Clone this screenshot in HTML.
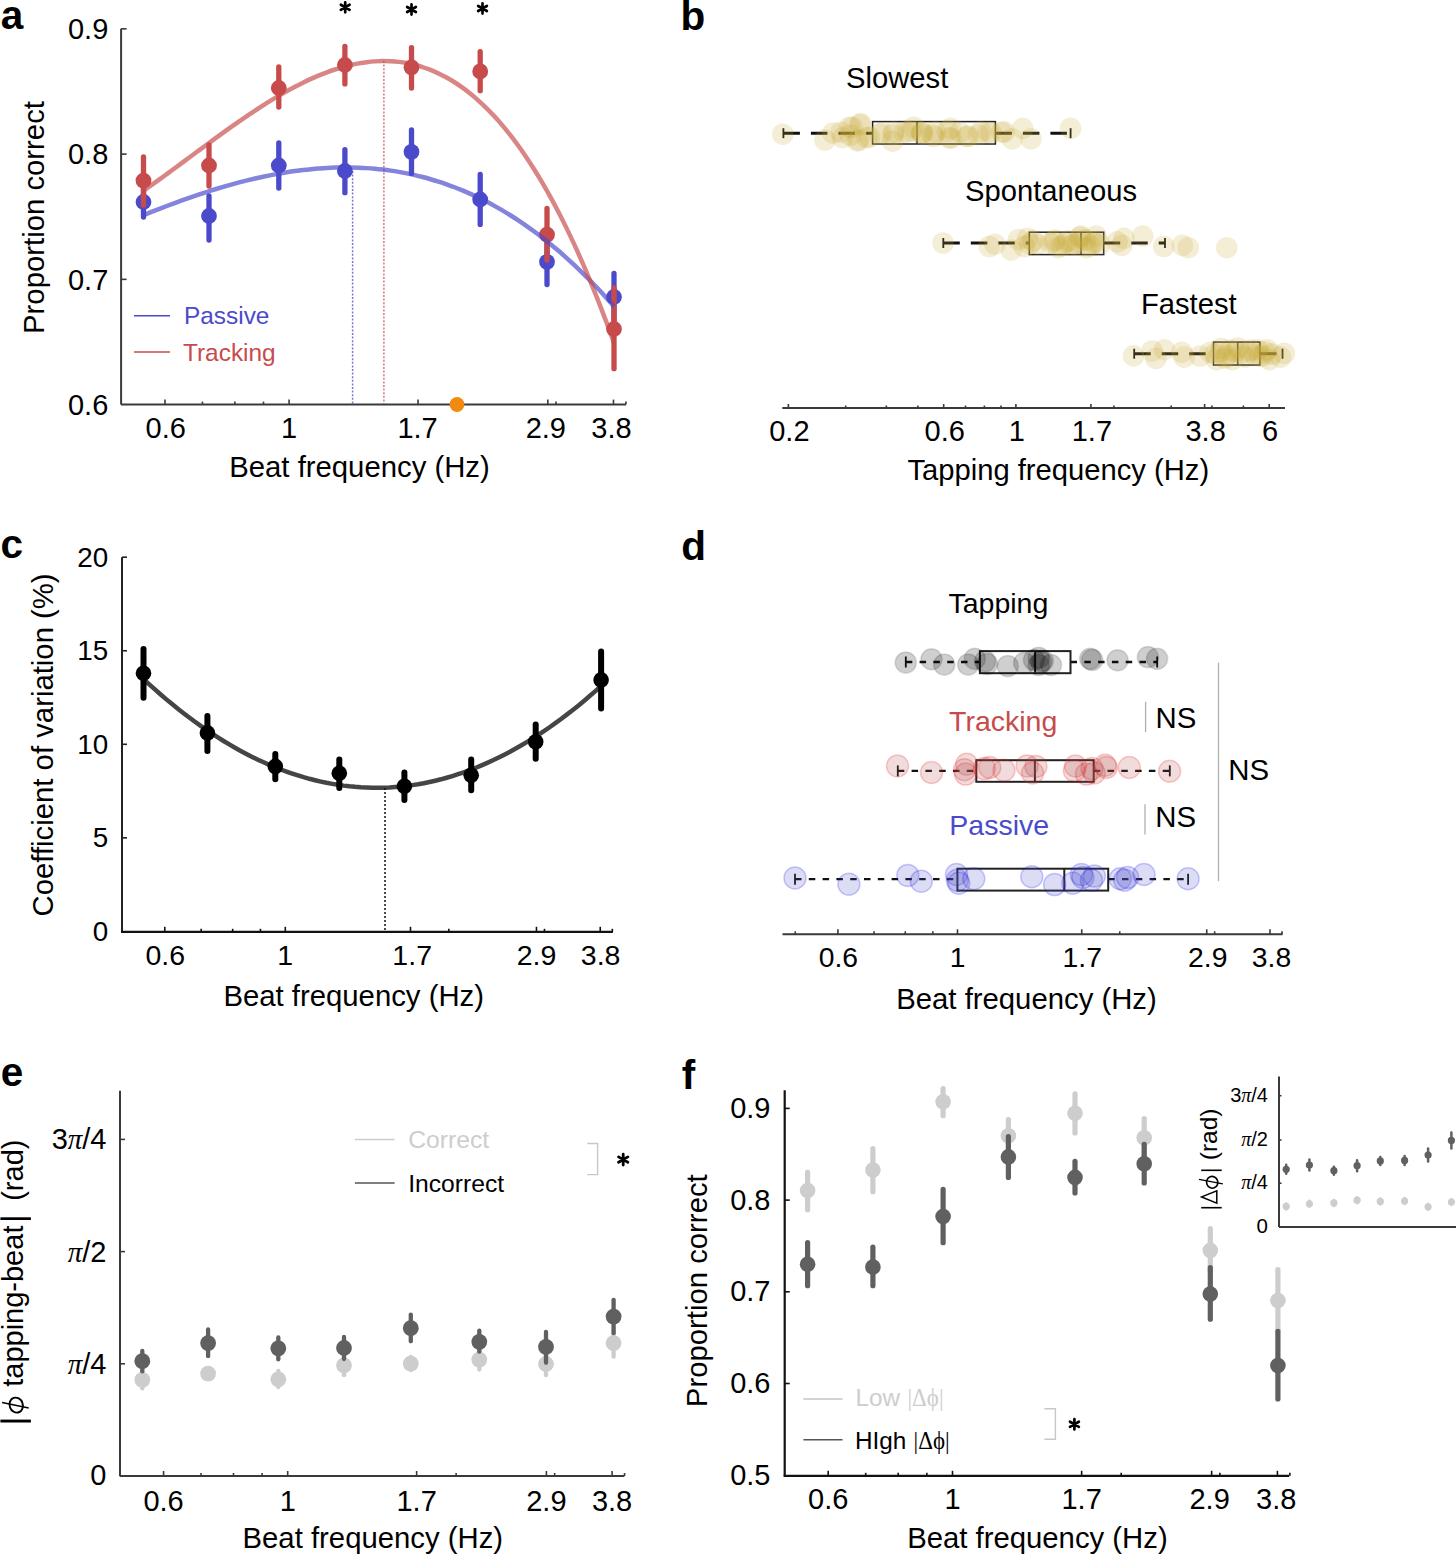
<!DOCTYPE html>
<html><head><meta charset="utf-8"><style>
html,body{margin:0;padding:0;background:#fff;width:1456px;height:1556px;overflow:hidden}
svg{display:block;font-family:"Liberation Sans",sans-serif}
</style></head><body>
<svg width="1456" height="1556" viewBox="0 0 1456 1556" font-family='"Liberation Sans", sans-serif'><text x="0.80" y="28.70" font-size="40.5" text-anchor="start" fill="#000" font-weight="bold" >a</text>
<text x="680.50" y="30.40" font-size="40.5" text-anchor="start" fill="#000" font-weight="bold" >b</text>
<text x="0.60" y="558.40" font-size="40.5" text-anchor="start" fill="#000" font-weight="bold" >c</text>
<text x="681.20" y="559.70" font-size="40.5" text-anchor="start" fill="#000" font-weight="bold" >d</text>
<text x="0.80" y="1085.60" font-size="40.5" text-anchor="start" fill="#000" font-weight="bold" >e</text>
<text x="681.80" y="1088.50" font-size="40.5" text-anchor="start" fill="#000" font-weight="bold" >f</text>
<line x1="121.10" y1="28.80" x2="121.10" y2="404.50" stroke="#3a3a3a" stroke-width="2" />
<line x1="121.10" y1="28.85" x2="126.60" y2="28.85" stroke="#3a3a3a" stroke-width="1.6" />
<line x1="121.10" y1="154.10" x2="126.60" y2="154.10" stroke="#3a3a3a" stroke-width="1.6" />
<line x1="121.10" y1="279.35" x2="126.60" y2="279.35" stroke="#3a3a3a" stroke-width="1.6" />
<line x1="121.00" y1="404.60" x2="626.00" y2="404.60" stroke="#3a3a3a" stroke-width="2" />
<line x1="164.98" y1="404.60" x2="164.98" y2="399.60" stroke="#3a3a3a" stroke-width="1.6" />
<line x1="289.10" y1="404.60" x2="289.10" y2="399.60" stroke="#3a3a3a" stroke-width="1.6" />
<line x1="418.04" y1="404.60" x2="418.04" y2="399.60" stroke="#3a3a3a" stroke-width="1.6" />
<line x1="547.81" y1="404.60" x2="547.81" y2="399.60" stroke="#3a3a3a" stroke-width="1.6" />
<line x1="613.49" y1="404.60" x2="613.49" y2="399.60" stroke="#3a3a3a" stroke-width="1.6" />
<line x1="202.43" y1="404.60" x2="202.43" y2="401.60" stroke="#3a3a3a" stroke-width="1.6" />
<line x1="234.88" y1="404.60" x2="234.88" y2="401.60" stroke="#3a3a3a" stroke-width="1.6" />
<line x1="263.50" y1="404.60" x2="263.50" y2="401.60" stroke="#3a3a3a" stroke-width="1.6" />
<line x1="457.53" y1="404.60" x2="457.53" y2="401.60" stroke="#3a3a3a" stroke-width="1.6" />
<line x1="556.05" y1="404.60" x2="556.05" y2="401.60" stroke="#3a3a3a" stroke-width="1.6" />
<line x1="625.95" y1="404.60" x2="625.95" y2="401.60" stroke="#3a3a3a" stroke-width="1.6" />
<text x="108.30" y="39.05" font-size="29" text-anchor="end" fill="#000" font-weight="normal" >0.9</text>
<text x="108.30" y="164.30" font-size="29" text-anchor="end" fill="#000" font-weight="normal" >0.8</text>
<text x="108.30" y="289.55" font-size="29" text-anchor="end" fill="#000" font-weight="normal" >0.7</text>
<text x="108.30" y="414.80" font-size="29" text-anchor="end" fill="#000" font-weight="normal" >0.6</text>
<text x="165.78" y="438.20" font-size="29" text-anchor="middle" fill="#000" font-weight="normal" >0.6</text>
<text x="289.10" y="438.20" font-size="29" text-anchor="middle" fill="#000" font-weight="normal" >1</text>
<text x="417.54" y="438.20" font-size="29" text-anchor="middle" fill="#000" font-weight="normal" >1.7</text>
<text x="545.81" y="438.20" font-size="29" text-anchor="middle" fill="#000" font-weight="normal" >2.9</text>
<text x="611.49" y="438.20" font-size="29" text-anchor="middle" fill="#000" font-weight="normal" >3.8</text>
<text x="359.50" y="476.50" font-size="29.3" text-anchor="middle" fill="#000" font-weight="normal" >Beat frequency (Hz)</text>
<text x="43.50" y="217.50" font-size="29.3" text-anchor="middle" fill="#000" font-weight="normal" transform="rotate(-90 43.5 217.5)">Proportion correct</text>
<line x1="352.60" y1="171.00" x2="352.60" y2="404.00" stroke="#4a4acb" stroke-width="1.5" stroke-dasharray="2 1.6" stroke-opacity="0.75"/>
<line x1="383.90" y1="61.00" x2="383.90" y2="404.00" stroke="#c84b4b" stroke-width="1.5" stroke-dasharray="2 1.6" stroke-opacity="0.75"/>
<line x1="143.50" y1="186.00" x2="143.50" y2="217.00" stroke="#4a4acb" stroke-width="5.3" stroke-linecap="round"/>
<circle cx="143.50" cy="202.00" r="7.9" fill="#4a4acb" />
<line x1="209.00" y1="196.00" x2="209.00" y2="240.00" stroke="#4a4acb" stroke-width="5.3" stroke-linecap="round"/>
<circle cx="209.00" cy="216.00" r="7.9" fill="#4a4acb" />
<line x1="278.80" y1="143.00" x2="278.80" y2="188.00" stroke="#4a4acb" stroke-width="5.3" stroke-linecap="round"/>
<circle cx="278.80" cy="165.50" r="7.9" fill="#4a4acb" />
<line x1="344.90" y1="149.60" x2="344.90" y2="192.70" stroke="#4a4acb" stroke-width="5.3" stroke-linecap="round"/>
<circle cx="344.90" cy="171.00" r="7.9" fill="#4a4acb" />
<line x1="411.50" y1="130.00" x2="411.50" y2="173.40" stroke="#4a4acb" stroke-width="5.3" stroke-linecap="round"/>
<circle cx="411.50" cy="151.90" r="7.9" fill="#4a4acb" />
<line x1="480.20" y1="174.50" x2="480.20" y2="224.40" stroke="#4a4acb" stroke-width="5.3" stroke-linecap="round"/>
<circle cx="480.20" cy="199.50" r="7.9" fill="#4a4acb" />
<line x1="547.00" y1="239.00" x2="547.00" y2="284.60" stroke="#4a4acb" stroke-width="5.3" stroke-linecap="round"/>
<circle cx="547.00" cy="261.90" r="7.9" fill="#4a4acb" />
<line x1="614.00" y1="273.50" x2="614.00" y2="320.00" stroke="#4a4acb" stroke-width="5.3" stroke-linecap="round"/>
<circle cx="614.00" cy="297.00" r="7.9" fill="#4a4acb" />
<line x1="143.50" y1="157.00" x2="143.50" y2="205.00" stroke="#c84b4b" stroke-width="5.3" stroke-linecap="round"/>
<circle cx="143.50" cy="180.60" r="7.9" fill="#c84b4b" />
<line x1="209.00" y1="145.00" x2="209.00" y2="186.00" stroke="#c84b4b" stroke-width="5.3" stroke-linecap="round"/>
<circle cx="209.00" cy="165.50" r="7.9" fill="#c84b4b" />
<line x1="278.80" y1="67.00" x2="278.80" y2="107.00" stroke="#c84b4b" stroke-width="5.3" stroke-linecap="round"/>
<circle cx="278.80" cy="88.00" r="7.9" fill="#c84b4b" />
<line x1="344.90" y1="46.50" x2="344.90" y2="83.90" stroke="#c84b4b" stroke-width="5.3" stroke-linecap="round"/>
<circle cx="344.90" cy="65.00" r="7.9" fill="#c84b4b" />
<line x1="411.50" y1="47.60" x2="411.50" y2="88.00" stroke="#c84b4b" stroke-width="5.3" stroke-linecap="round"/>
<circle cx="411.50" cy="67.30" r="7.9" fill="#c84b4b" />
<line x1="480.20" y1="51.70" x2="480.20" y2="90.70" stroke="#c84b4b" stroke-width="5.3" stroke-linecap="round"/>
<circle cx="480.20" cy="71.40" r="7.9" fill="#c84b4b" />
<line x1="547.00" y1="208.50" x2="547.00" y2="260.00" stroke="#c84b4b" stroke-width="5.3" stroke-linecap="round"/>
<circle cx="547.00" cy="234.60" r="7.9" fill="#c84b4b" />
<line x1="614.00" y1="288.00" x2="614.00" y2="368.70" stroke="#c84b4b" stroke-width="5.3" stroke-linecap="round"/>
<circle cx="614.00" cy="329.00" r="7.9" fill="#c84b4b" />
<path d="M143.50,215.14 C144.83,214.61 148.82,213.00 151.47,211.94 C154.13,210.89 156.79,209.84 159.45,208.81 C162.11,207.78 164.77,206.76 167.42,205.75 C170.08,204.75 172.74,203.76 175.40,202.78 C178.06,201.80 180.71,200.84 183.37,199.89 C186.03,198.94 188.69,198.00 191.35,197.09 C194.01,196.17 196.66,195.26 199.32,194.38 C201.98,193.49 204.64,192.62 207.30,191.77 C209.95,190.92 212.61,190.08 215.27,189.27 C217.93,188.45 220.59,187.65 223.25,186.87 C225.90,186.09 228.56,185.33 231.22,184.59 C233.88,183.85 236.54,183.13 239.19,182.43 C241.85,181.73 244.51,181.05 247.17,180.40 C249.83,179.74 252.49,179.10 255.14,178.49 C257.80,177.88 260.46,177.29 263.12,176.72 C265.78,176.15 268.44,175.61 271.09,175.08 C273.75,174.56 276.41,174.07 279.07,173.59 C281.73,173.12 284.38,172.68 287.04,172.25 C289.70,171.83 292.36,171.44 295.02,171.07 C297.68,170.70 300.33,170.35 302.99,170.04 C305.65,169.72 308.31,169.43 310.97,169.17 C313.62,168.91 316.28,168.68 318.94,168.48 C321.60,168.28 324.26,168.10 326.92,167.96 C329.57,167.81 332.23,167.70 334.89,167.61 C337.55,167.53 340.21,167.48 342.86,167.45 C345.52,167.43 348.18,167.44 350.84,167.48 C353.50,167.52 356.16,167.60 358.81,167.70 C361.47,167.81 364.13,167.95 366.79,168.13 C369.45,168.30 372.10,168.51 374.76,168.75 C377.42,168.99 380.08,169.27 382.74,169.58 C385.40,169.89 388.05,170.24 390.71,170.63 C393.37,171.01 396.03,171.43 398.69,171.89 C401.34,172.35 404.00,172.84 406.66,173.38 C409.32,173.91 411.98,174.48 414.64,175.09 C417.29,175.70 419.95,176.35 422.61,177.04 C425.27,177.73 427.93,178.45 430.58,179.22 C433.24,179.99 435.90,180.80 438.56,181.65 C441.22,182.50 443.88,183.39 446.53,184.33 C449.19,185.26 451.85,186.24 454.51,187.26 C457.17,188.27 459.82,189.34 462.48,190.44 C465.14,191.55 467.80,192.70 470.46,193.89 C473.12,195.08 475.77,196.32 478.43,197.61 C481.09,198.89 483.75,200.22 486.41,201.60 C489.06,202.97 491.72,204.39 494.38,205.86 C497.04,207.33 499.70,208.85 502.36,210.41 C505.01,211.97 507.67,213.59 510.33,215.25 C512.99,216.91 515.65,218.62 518.31,220.37 C520.96,222.13 523.62,223.94 526.28,225.80 C528.94,227.66 531.60,229.57 534.25,231.53 C536.91,233.49 539.57,235.50 542.23,237.56 C544.89,239.63 547.55,241.74 550.20,243.91 C552.86,246.08 555.52,248.30 558.18,250.57 C560.84,252.85 563.49,255.18 566.15,257.56 C568.81,259.94 571.47,262.38 574.13,264.87 C576.79,267.36 579.44,269.91 582.10,272.52 C584.76,275.12 587.42,277.78 590.08,280.50 C592.73,283.21 595.39,285.99 598.05,288.82 C600.71,291.65 603.37,294.54 606.03,297.49 C608.68,300.44 612.67,305.01 614.00,306.51 " fill="none" stroke="#4a4acb" stroke-opacity="0.68" stroke-width="4.5"/>
<path d="M143.50,190.73 C144.83,189.80 148.82,187.01 151.47,185.12 C154.13,183.23 156.79,181.32 159.45,179.40 C162.11,177.48 164.77,175.55 167.42,173.61 C170.08,171.67 172.74,169.72 175.40,167.76 C178.06,165.80 180.71,163.84 183.37,161.87 C186.03,159.91 188.69,157.94 191.35,155.97 C194.01,154.00 196.66,152.03 199.32,150.07 C201.98,148.10 204.64,146.14 207.30,144.19 C209.95,142.24 212.61,140.29 215.27,138.35 C217.93,136.42 220.59,134.49 223.25,132.58 C225.90,130.67 228.56,128.77 231.22,126.89 C233.88,125.01 236.54,123.14 239.19,121.30 C241.85,119.45 244.51,117.63 247.17,115.83 C249.83,114.03 252.49,112.25 255.14,110.51 C257.80,108.76 260.46,107.04 263.12,105.35 C265.78,103.66 268.44,101.99 271.09,100.37 C273.75,98.74 276.41,97.15 279.07,95.59 C281.73,94.04 284.38,92.51 287.04,91.04 C289.70,89.56 292.36,88.12 295.02,86.73 C297.68,85.33 300.33,83.98 302.99,82.68 C305.65,81.38 308.31,80.12 310.97,78.91 C313.62,77.71 316.28,76.55 318.94,75.45 C321.60,74.35 324.26,73.30 326.92,72.31 C329.57,71.32 332.23,70.38 334.89,69.51 C337.55,68.64 340.21,67.83 342.86,67.08 C345.52,66.33 348.18,65.64 350.84,65.03 C353.50,64.41 356.16,63.86 358.81,63.38 C361.47,62.90 364.13,62.48 366.79,62.15 C369.45,61.81 372.10,61.55 374.76,61.37 C377.42,61.18 380.08,61.07 382.74,61.04 C385.40,61.02 388.05,61.07 390.71,61.21 C393.37,61.34 396.03,61.56 398.69,61.87 C401.34,62.18 404.00,62.57 406.66,63.06 C409.32,63.54 411.98,64.12 414.64,64.79 C417.29,65.46 419.95,66.22 422.61,67.08 C425.27,67.94 427.93,68.89 430.58,69.95 C433.24,71.01 435.90,72.17 438.56,73.43 C441.22,74.69 443.88,76.06 446.53,77.53 C449.19,79.00 451.85,80.58 454.51,82.27 C457.17,83.96 459.82,85.76 462.48,87.68 C465.14,89.59 467.80,91.62 470.46,93.77 C473.12,95.91 475.77,98.17 478.43,100.56 C481.09,102.94 483.75,105.44 486.41,108.07 C489.06,110.70 491.72,113.45 494.38,116.33 C497.04,119.21 499.70,122.21 502.36,125.35 C505.01,128.49 507.67,131.75 510.33,135.15 C512.99,138.55 515.65,142.08 518.31,145.76 C520.96,149.43 523.62,153.23 526.28,157.18 C528.94,161.13 531.60,165.22 534.25,169.46 C536.91,173.69 539.57,178.06 542.23,182.59 C544.89,187.11 547.55,191.78 550.20,196.61 C552.86,201.43 555.52,206.40 558.18,211.52 C560.84,216.65 563.49,221.93 566.15,227.37 C568.81,232.80 571.47,238.40 574.13,244.15 C576.79,249.91 579.44,255.82 582.10,261.90 C584.76,267.98 587.42,274.22 590.08,280.63 C592.73,287.04 595.39,293.61 598.05,300.36 C600.71,307.11 603.37,314.03 606.03,321.12 C608.68,328.21 612.67,339.28 614.00,342.92 " fill="none" stroke="#c84b4b" stroke-opacity="0.68" stroke-width="4.5"/>
<path d="M345.20,2.25 L345.20,12.35 M340.83,4.78 L349.57,9.82 M340.83,9.82 L349.57,4.78 " stroke="#000" stroke-width="2.7" stroke-linecap="round" fill="none"/>
<path d="M411.50,4.45 L411.50,14.55 M407.13,6.97 L415.87,12.03 M407.13,12.03 L415.87,6.97 " stroke="#000" stroke-width="2.7" stroke-linecap="round" fill="none"/>
<path d="M482.50,3.45 L482.50,13.55 M478.13,5.97 L486.87,11.03 M478.13,11.03 L486.87,5.97 " stroke="#000" stroke-width="2.7" stroke-linecap="round" fill="none"/>
<line x1="134.00" y1="315.70" x2="170.00" y2="315.70" stroke="#4a4acb" stroke-width="1.5" />
<text x="184.00" y="323.70" font-size="24.4" text-anchor="start" fill="#4a4acb" font-weight="normal" >Passive</text>
<line x1="134.00" y1="352.00" x2="170.00" y2="352.00" stroke="#c84b4b" stroke-width="1.5" />
<text x="183.00" y="361.00" font-size="24.4" text-anchor="start" fill="#c84b4b" font-weight="normal" >Tracking</text>
<circle cx="457.00" cy="404.50" r="7.4" fill="#f08a10" />
<line x1="782.30" y1="408.00" x2="1285.00" y2="408.00" stroke="#3a3a3a" stroke-width="2" />
<line x1="788.39" y1="408.00" x2="788.39" y2="404.00" stroke="#3a3a3a" stroke-width="1.6" />
<line x1="943.69" y1="408.00" x2="943.69" y2="404.00" stroke="#3a3a3a" stroke-width="1.6" />
<line x1="1015.90" y1="408.00" x2="1015.90" y2="404.00" stroke="#3a3a3a" stroke-width="1.6" />
<line x1="1090.91" y1="408.00" x2="1090.91" y2="404.00" stroke="#3a3a3a" stroke-width="1.6" />
<line x1="1204.62" y1="408.00" x2="1204.62" y2="404.00" stroke="#3a3a3a" stroke-width="1.6" />
<line x1="1269.19" y1="408.00" x2="1269.19" y2="404.00" stroke="#3a3a3a" stroke-width="1.6" />
<line x1="845.70" y1="408.00" x2="845.70" y2="405.50" stroke="#3a3a3a" stroke-width="1.6" />
<line x1="886.37" y1="408.00" x2="886.37" y2="405.50" stroke="#3a3a3a" stroke-width="1.6" />
<line x1="917.91" y1="408.00" x2="917.91" y2="405.50" stroke="#3a3a3a" stroke-width="1.6" />
<line x1="965.48" y1="408.00" x2="965.48" y2="405.50" stroke="#3a3a3a" stroke-width="1.6" />
<line x1="984.36" y1="408.00" x2="984.36" y2="405.50" stroke="#3a3a3a" stroke-width="1.6" />
<line x1="1001.01" y1="408.00" x2="1001.01" y2="405.50" stroke="#3a3a3a" stroke-width="1.6" />
<line x1="1113.89" y1="408.00" x2="1113.89" y2="405.50" stroke="#3a3a3a" stroke-width="1.6" />
<line x1="1171.20" y1="408.00" x2="1171.20" y2="405.50" stroke="#3a3a3a" stroke-width="1.6" />
<line x1="1211.87" y1="408.00" x2="1211.87" y2="405.50" stroke="#3a3a3a" stroke-width="1.6" />
<line x1="1243.41" y1="408.00" x2="1243.41" y2="405.50" stroke="#3a3a3a" stroke-width="1.6" />
<text x="789.39" y="441.00" font-size="29" text-anchor="middle" fill="#000" font-weight="normal" >0.2</text>
<text x="944.69" y="441.00" font-size="29" text-anchor="middle" fill="#000" font-weight="normal" >0.6</text>
<text x="1016.90" y="441.00" font-size="29" text-anchor="middle" fill="#000" font-weight="normal" >1</text>
<text x="1091.91" y="441.00" font-size="29" text-anchor="middle" fill="#000" font-weight="normal" >1.7</text>
<text x="1205.62" y="441.00" font-size="29" text-anchor="middle" fill="#000" font-weight="normal" >3.8</text>
<text x="1270.19" y="441.00" font-size="29" text-anchor="middle" fill="#000" font-weight="normal" >6</text>
<text x="1058.30" y="480.00" font-size="29.2" text-anchor="middle" fill="#000" font-weight="normal" >Tapping frequency (Hz)</text>
<text x="897.20" y="87.60" font-size="29.2" text-anchor="middle" fill="#000" font-weight="normal" >Slowest</text>
<text x="1051.10" y="201.20" font-size="29.2" text-anchor="middle" fill="#000" font-weight="normal" >Spontaneous</text>
<text x="1188.80" y="314.40" font-size="29.2" text-anchor="middle" fill="#000" font-weight="normal" >Fastest</text>
<line x1="783.40" y1="133.20" x2="872.60" y2="133.20" stroke="#111" stroke-width="3" stroke-dasharray="16.5 11"/>
<line x1="995.40" y1="133.20" x2="1070.60" y2="133.20" stroke="#111" stroke-width="3" stroke-dasharray="16.5 11"/>
<line x1="783.40" y1="128.20" x2="783.40" y2="138.20" stroke="#111" stroke-width="1.8" />
<line x1="1070.60" y1="128.20" x2="1070.60" y2="138.20" stroke="#111" stroke-width="1.8" />
<rect x="872.60" y="121.60" width="122.80" height="22.40" fill="none" stroke="#222" stroke-width="1.5"/>
<line x1="917.00" y1="121.60" x2="917.00" y2="144.00" stroke="#222" stroke-width="1.5" />
<circle cx="782.80" cy="134.20" r="10.8" fill="rgb(200,170,55)" fill-opacity="0.2"/>
<circle cx="824.90" cy="140.00" r="10.8" fill="rgb(200,170,55)" fill-opacity="0.2"/>
<circle cx="833.00" cy="133.00" r="10.8" fill="rgb(200,170,55)" fill-opacity="0.2"/>
<circle cx="842.40" cy="137.70" r="10.8" fill="rgb(200,170,55)" fill-opacity="0.2"/>
<circle cx="849.40" cy="127.20" r="10.8" fill="rgb(200,170,55)" fill-opacity="0.2"/>
<circle cx="850.60" cy="135.40" r="10.8" fill="rgb(200,170,55)" fill-opacity="0.2"/>
<circle cx="859.90" cy="124.80" r="10.8" fill="rgb(200,170,55)" fill-opacity="0.2"/>
<circle cx="858.70" cy="140.00" r="10.8" fill="rgb(200,170,55)" fill-opacity="0.2"/>
<circle cx="866.90" cy="137.70" r="10.8" fill="rgb(200,170,55)" fill-opacity="0.2"/>
<circle cx="882.10" cy="133.00" r="10.8" fill="rgb(200,170,55)" fill-opacity="0.2"/>
<circle cx="892.60" cy="141.20" r="10.8" fill="rgb(200,170,55)" fill-opacity="0.2"/>
<circle cx="893.80" cy="131.90" r="10.8" fill="rgb(200,170,55)" fill-opacity="0.2"/>
<circle cx="907.80" cy="131.90" r="10.8" fill="rgb(200,170,55)" fill-opacity="0.2"/>
<circle cx="913.60" cy="127.20" r="10.8" fill="rgb(200,170,55)" fill-opacity="0.2"/>
<circle cx="921.80" cy="134.20" r="10.8" fill="rgb(200,170,55)" fill-opacity="0.2"/>
<circle cx="933.50" cy="136.50" r="10.8" fill="rgb(200,170,55)" fill-opacity="0.2"/>
<circle cx="922.30" cy="133.00" r="10.8" fill="rgb(200,170,55)" fill-opacity="0.2"/>
<circle cx="935.20" cy="131.90" r="10.8" fill="rgb(200,170,55)" fill-opacity="0.2"/>
<circle cx="950.40" cy="128.40" r="10.8" fill="rgb(200,170,55)" fill-opacity="0.2"/>
<circle cx="949.20" cy="137.70" r="10.8" fill="rgb(200,170,55)" fill-opacity="0.2"/>
<circle cx="966.70" cy="136.50" r="10.8" fill="rgb(200,170,55)" fill-opacity="0.2"/>
<circle cx="980.70" cy="131.90" r="10.8" fill="rgb(200,170,55)" fill-opacity="0.2"/>
<circle cx="991.20" cy="133.00" r="10.8" fill="rgb(200,170,55)" fill-opacity="0.2"/>
<circle cx="1004.10" cy="131.90" r="10.8" fill="rgb(200,170,55)" fill-opacity="0.2"/>
<circle cx="1012.20" cy="138.90" r="10.8" fill="rgb(200,170,55)" fill-opacity="0.2"/>
<circle cx="1022.70" cy="128.40" r="10.8" fill="rgb(200,170,55)" fill-opacity="0.2"/>
<circle cx="1030.90" cy="138.90" r="10.8" fill="rgb(200,170,55)" fill-opacity="0.2"/>
<circle cx="1070.60" cy="128.40" r="10.8" fill="rgb(200,170,55)" fill-opacity="0.2"/>
<circle cx="879.40" cy="134.10" r="10.8" fill="rgb(200,170,55)" fill-opacity="0.2"/>
<circle cx="893.00" cy="134.70" r="10.8" fill="rgb(200,170,55)" fill-opacity="0.2"/>
<circle cx="904.20" cy="132.20" r="10.8" fill="rgb(200,170,55)" fill-opacity="0.2"/>
<circle cx="911.60" cy="131.00" r="10.8" fill="rgb(200,170,55)" fill-opacity="0.2"/>
<circle cx="921.50" cy="132.20" r="10.8" fill="rgb(200,170,55)" fill-opacity="0.2"/>
<circle cx="932.60" cy="134.70" r="10.8" fill="rgb(200,170,55)" fill-opacity="0.2"/>
<circle cx="947.40" cy="131.00" r="10.8" fill="rgb(200,170,55)" fill-opacity="0.2"/>
<circle cx="951.10" cy="138.40" r="10.8" fill="rgb(200,170,55)" fill-opacity="0.2"/>
<circle cx="959.80" cy="132.20" r="10.8" fill="rgb(200,170,55)" fill-opacity="0.2"/>
<circle cx="968.40" cy="136.00" r="10.8" fill="rgb(200,170,55)" fill-opacity="0.2"/>
<circle cx="978.30" cy="134.70" r="10.8" fill="rgb(200,170,55)" fill-opacity="0.2"/>
<circle cx="988.20" cy="132.20" r="10.8" fill="rgb(200,170,55)" fill-opacity="0.2"/>
<circle cx="1001.80" cy="132.20" r="10.8" fill="rgb(200,170,55)" fill-opacity="0.2"/>
<circle cx="841.00" cy="132.20" r="10.8" fill="rgb(200,170,55)" fill-opacity="0.2"/>
<circle cx="852.20" cy="127.30" r="10.8" fill="rgb(200,170,55)" fill-opacity="0.2"/>
<circle cx="860.90" cy="123.60" r="10.8" fill="rgb(200,170,55)" fill-opacity="0.2"/>
<circle cx="857.20" cy="140.90" r="10.8" fill="rgb(200,170,55)" fill-opacity="0.2"/>
<circle cx="869.60" cy="137.20" r="10.8" fill="rgb(200,170,55)" fill-opacity="0.2"/>
<line x1="943.30" y1="243.00" x2="1029.30" y2="243.00" stroke="#111" stroke-width="3" stroke-dasharray="16.5 11"/>
<line x1="1103.70" y1="243.00" x2="1165.00" y2="243.00" stroke="#111" stroke-width="3" stroke-dasharray="16.5 11"/>
<line x1="943.30" y1="238.00" x2="943.30" y2="248.00" stroke="#111" stroke-width="1.8" />
<line x1="1165.00" y1="238.00" x2="1165.00" y2="248.00" stroke="#111" stroke-width="1.8" />
<rect x="1029.30" y="232.20" width="74.40" height="22.40" fill="none" stroke="#222" stroke-width="1.5"/>
<line x1="1081.00" y1="232.20" x2="1081.00" y2="254.60" stroke="#222" stroke-width="1.5" />
<circle cx="943.10" cy="243.00" r="10.8" fill="rgb(200,170,55)" fill-opacity="0.2"/>
<circle cx="989.20" cy="246.50" r="10.8" fill="rgb(200,170,55)" fill-opacity="0.2"/>
<circle cx="995.00" cy="244.20" r="10.8" fill="rgb(200,170,55)" fill-opacity="0.2"/>
<circle cx="1011.40" cy="250.00" r="10.8" fill="rgb(200,170,55)" fill-opacity="0.2"/>
<circle cx="1018.40" cy="239.50" r="10.8" fill="rgb(200,170,55)" fill-opacity="0.2"/>
<circle cx="1024.20" cy="246.50" r="10.8" fill="rgb(200,170,55)" fill-opacity="0.2"/>
<circle cx="1027.70" cy="238.40" r="10.8" fill="rgb(200,170,55)" fill-opacity="0.2"/>
<circle cx="1037.10" cy="244.20" r="10.8" fill="rgb(200,170,55)" fill-opacity="0.2"/>
<circle cx="1053.40" cy="241.90" r="10.8" fill="rgb(200,170,55)" fill-opacity="0.2"/>
<circle cx="1058.10" cy="247.70" r="10.8" fill="rgb(200,170,55)" fill-opacity="0.2"/>
<circle cx="1065.10" cy="243.00" r="10.8" fill="rgb(200,170,55)" fill-opacity="0.2"/>
<circle cx="1074.40" cy="244.20" r="10.8" fill="rgb(200,170,55)" fill-opacity="0.2"/>
<circle cx="1080.30" cy="237.20" r="10.8" fill="rgb(200,170,55)" fill-opacity="0.2"/>
<circle cx="1086.10" cy="247.70" r="10.8" fill="rgb(200,170,55)" fill-opacity="0.2"/>
<circle cx="1093.10" cy="243.00" r="10.8" fill="rgb(200,170,55)" fill-opacity="0.2"/>
<circle cx="1080.80" cy="236.00" r="10.8" fill="rgb(200,170,55)" fill-opacity="0.2"/>
<circle cx="1096.00" cy="236.00" r="10.8" fill="rgb(200,170,55)" fill-opacity="0.2"/>
<circle cx="1117.00" cy="241.90" r="10.8" fill="rgb(200,170,55)" fill-opacity="0.2"/>
<circle cx="1121.70" cy="245.40" r="10.8" fill="rgb(200,170,55)" fill-opacity="0.2"/>
<circle cx="1124.00" cy="238.40" r="10.8" fill="rgb(200,170,55)" fill-opacity="0.2"/>
<circle cx="1142.70" cy="236.00" r="10.8" fill="rgb(200,170,55)" fill-opacity="0.2"/>
<circle cx="1163.70" cy="246.50" r="10.8" fill="rgb(200,170,55)" fill-opacity="0.2"/>
<circle cx="1182.40" cy="245.40" r="10.8" fill="rgb(200,170,55)" fill-opacity="0.2"/>
<circle cx="1188.30" cy="247.70" r="10.8" fill="rgb(200,170,55)" fill-opacity="0.2"/>
<circle cx="1226.80" cy="247.70" r="10.8" fill="rgb(200,170,55)" fill-opacity="0.2"/>
<circle cx="1050.00" cy="243.00" r="10.8" fill="rgb(200,170,55)" fill-opacity="0.2"/>
<circle cx="1055.00" cy="240.00" r="10.8" fill="rgb(200,170,55)" fill-opacity="0.2"/>
<circle cx="1062.00" cy="246.00" r="10.8" fill="rgb(200,170,55)" fill-opacity="0.2"/>
<circle cx="1068.00" cy="241.00" r="10.8" fill="rgb(200,170,55)" fill-opacity="0.2"/>
<circle cx="1072.00" cy="245.00" r="10.8" fill="rgb(200,170,55)" fill-opacity="0.2"/>
<circle cx="1078.00" cy="243.00" r="10.8" fill="rgb(200,170,55)" fill-opacity="0.2"/>
<circle cx="1085.00" cy="240.00" r="10.8" fill="rgb(200,170,55)" fill-opacity="0.2"/>
<circle cx="1090.00" cy="246.00" r="10.8" fill="rgb(200,170,55)" fill-opacity="0.2"/>
<circle cx="1095.00" cy="242.00" r="10.8" fill="rgb(200,170,55)" fill-opacity="0.2"/>
<circle cx="1100.00" cy="244.00" r="10.8" fill="rgb(200,170,55)" fill-opacity="0.2"/>
<circle cx="1030.00" cy="244.00" r="10.8" fill="rgb(200,170,55)" fill-opacity="0.2"/>
<circle cx="1033.00" cy="241.00" r="10.8" fill="rgb(200,170,55)" fill-opacity="0.2"/>
<line x1="1134.20" y1="353.70" x2="1213.50" y2="353.70" stroke="#111" stroke-width="3" stroke-dasharray="16.5 11"/>
<line x1="1259.90" y1="353.70" x2="1282.50" y2="353.70" stroke="#111" stroke-width="3" stroke-dasharray="16.5 11"/>
<line x1="1134.20" y1="348.70" x2="1134.20" y2="358.70" stroke="#111" stroke-width="1.8" />
<line x1="1282.50" y1="348.70" x2="1282.50" y2="358.70" stroke="#111" stroke-width="1.8" />
<rect x="1213.50" y="342.10" width="46.40" height="22.90" fill="none" stroke="#222" stroke-width="1.5"/>
<line x1="1237.70" y1="342.10" x2="1237.70" y2="365.00" stroke="#222" stroke-width="1.5" />
<circle cx="1133.50" cy="355.90" r="10.8" fill="rgb(200,170,55)" fill-opacity="0.2"/>
<circle cx="1152.10" cy="351.00" r="10.8" fill="rgb(200,170,55)" fill-opacity="0.2"/>
<circle cx="1155.80" cy="358.40" r="10.8" fill="rgb(200,170,55)" fill-opacity="0.2"/>
<circle cx="1164.50" cy="349.70" r="10.8" fill="rgb(200,170,55)" fill-opacity="0.2"/>
<circle cx="1181.80" cy="352.20" r="10.8" fill="rgb(200,170,55)" fill-opacity="0.2"/>
<circle cx="1184.20" cy="357.10" r="10.8" fill="rgb(200,170,55)" fill-opacity="0.2"/>
<circle cx="1210.20" cy="352.20" r="10.8" fill="rgb(200,170,55)" fill-opacity="0.2"/>
<circle cx="1216.40" cy="359.60" r="10.8" fill="rgb(200,170,55)" fill-opacity="0.2"/>
<circle cx="1221.30" cy="348.50" r="10.8" fill="rgb(200,170,55)" fill-opacity="0.2"/>
<circle cx="1226.30" cy="355.90" r="10.8" fill="rgb(200,170,55)" fill-opacity="0.2"/>
<circle cx="1232.40" cy="359.60" r="10.8" fill="rgb(200,170,55)" fill-opacity="0.2"/>
<circle cx="1241.10" cy="353.40" r="10.8" fill="rgb(200,170,55)" fill-opacity="0.2"/>
<circle cx="1248.50" cy="352.20" r="10.8" fill="rgb(200,170,55)" fill-opacity="0.2"/>
<circle cx="1257.20" cy="349.70" r="10.8" fill="rgb(200,170,55)" fill-opacity="0.2"/>
<circle cx="1263.40" cy="355.90" r="10.8" fill="rgb(200,170,55)" fill-opacity="0.2"/>
<circle cx="1267.10" cy="349.70" r="10.8" fill="rgb(200,170,55)" fill-opacity="0.2"/>
<circle cx="1269.50" cy="359.60" r="10.8" fill="rgb(200,170,55)" fill-opacity="0.2"/>
<circle cx="1284.40" cy="353.40" r="10.8" fill="rgb(200,170,55)" fill-opacity="0.2"/>
<circle cx="1280.70" cy="357.10" r="10.8" fill="rgb(200,170,55)" fill-opacity="0.2"/>
<circle cx="1220.00" cy="352.00" r="10.8" fill="rgb(200,170,55)" fill-opacity="0.2"/>
<circle cx="1230.00" cy="350.00" r="10.8" fill="rgb(200,170,55)" fill-opacity="0.2"/>
<circle cx="1245.00" cy="357.00" r="10.8" fill="rgb(200,170,55)" fill-opacity="0.2"/>
<circle cx="1255.00" cy="355.00" r="10.8" fill="rgb(200,170,55)" fill-opacity="0.2"/>
<circle cx="1238.00" cy="348.00" r="10.8" fill="rgb(200,170,55)" fill-opacity="0.2"/>
<circle cx="1215.00" cy="354.00" r="10.8" fill="rgb(200,170,55)" fill-opacity="0.2"/>
<circle cx="1225.00" cy="358.00" r="10.8" fill="rgb(200,170,55)" fill-opacity="0.2"/>
<circle cx="1235.00" cy="352.00" r="10.8" fill="rgb(200,170,55)" fill-opacity="0.2"/>
<circle cx="1250.00" cy="350.00" r="10.8" fill="rgb(200,170,55)" fill-opacity="0.2"/>
<circle cx="1260.00" cy="356.00" r="10.8" fill="rgb(200,170,55)" fill-opacity="0.2"/>
<circle cx="1265.00" cy="352.00" r="10.8" fill="rgb(200,170,55)" fill-opacity="0.2"/>
<circle cx="1272.00" cy="354.00" r="10.8" fill="rgb(200,170,55)" fill-opacity="0.2"/>
<circle cx="1200.00" cy="356.00" r="10.8" fill="rgb(200,170,55)" fill-opacity="0.2"/>
<line x1="122.00" y1="557.20" x2="122.00" y2="931.80" stroke="#222" stroke-width="2" />
<line x1="122.00" y1="557.20" x2="127.00" y2="557.20" stroke="#222" stroke-width="1.6" />
<line x1="122.00" y1="650.75" x2="127.00" y2="650.75" stroke="#222" stroke-width="1.6" />
<line x1="122.00" y1="744.30" x2="127.00" y2="744.30" stroke="#222" stroke-width="1.6" />
<line x1="122.00" y1="837.85" x2="127.00" y2="837.85" stroke="#222" stroke-width="1.6" />
<line x1="121.00" y1="931.80" x2="612.90" y2="931.80" stroke="#111" stroke-width="2.2" />
<line x1="164.79" y1="931.80" x2="164.79" y2="926.80" stroke="#111" stroke-width="1.6" />
<line x1="285.30" y1="931.80" x2="285.30" y2="926.80" stroke="#111" stroke-width="1.6" />
<line x1="410.48" y1="931.80" x2="410.48" y2="926.80" stroke="#111" stroke-width="1.6" />
<line x1="536.47" y1="931.80" x2="536.47" y2="926.80" stroke="#111" stroke-width="1.6" />
<line x1="600.24" y1="931.80" x2="600.24" y2="926.80" stroke="#111" stroke-width="1.6" />
<line x1="201.16" y1="931.80" x2="201.16" y2="928.80" stroke="#111" stroke-width="1.6" />
<line x1="232.66" y1="931.80" x2="232.66" y2="928.80" stroke="#111" stroke-width="1.6" />
<line x1="260.44" y1="931.80" x2="260.44" y2="928.80" stroke="#111" stroke-width="1.6" />
<line x1="448.82" y1="931.80" x2="448.82" y2="928.80" stroke="#111" stroke-width="1.6" />
<line x1="544.47" y1="931.80" x2="544.47" y2="928.80" stroke="#111" stroke-width="1.6" />
<line x1="612.34" y1="931.80" x2="612.34" y2="928.80" stroke="#111" stroke-width="1.6" />
<text x="108.20" y="566.50" font-size="27.8" text-anchor="end" fill="#000" font-weight="normal" >20</text>
<text x="108.20" y="660.05" font-size="27.8" text-anchor="end" fill="#000" font-weight="normal" >15</text>
<text x="108.20" y="753.60" font-size="27.8" text-anchor="end" fill="#000" font-weight="normal" >10</text>
<text x="108.20" y="847.15" font-size="27.8" text-anchor="end" fill="#000" font-weight="normal" >5</text>
<text x="108.20" y="940.70" font-size="27.8" text-anchor="end" fill="#000" font-weight="normal" >0</text>
<text x="165.29" y="964.90" font-size="28.5" text-anchor="middle" fill="#000" font-weight="normal" >0.6</text>
<text x="285.30" y="964.90" font-size="28.5" text-anchor="middle" fill="#000" font-weight="normal" >1</text>
<text x="412.18" y="964.90" font-size="28.5" text-anchor="middle" fill="#000" font-weight="normal" >1.7</text>
<text x="536.47" y="964.90" font-size="28.5" text-anchor="middle" fill="#000" font-weight="normal" >2.9</text>
<text x="600.64" y="964.90" font-size="28.5" text-anchor="middle" fill="#000" font-weight="normal" >3.8</text>
<text x="353.70" y="1005.50" font-size="29.3" text-anchor="middle" fill="#000" font-weight="normal" >Beat frequency (Hz)</text>
<text x="52.50" y="744.40" font-size="29.3" text-anchor="middle" fill="#000" font-weight="normal" transform="rotate(-90 53 744.4)">Coefficient of variation (%)</text>
<path d="M143.50,679.00 L149.22,684.28 L154.94,689.43 L160.66,694.45 L166.38,699.34 L172.10,704.10 L177.82,708.72 L183.54,713.22 L189.26,717.58 L194.98,721.81 L200.70,725.91 L206.42,729.87 L212.14,733.71 L217.86,737.41 L223.58,740.99 L229.30,744.43 L235.02,747.74 L240.74,750.92 L246.46,753.96 L252.18,756.88 L257.90,759.66 L263.62,762.31 L269.34,764.83 L275.06,767.22 L280.78,769.48 L286.50,771.61 L292.22,773.60 L297.94,775.46 L303.66,777.20 L309.38,778.80 L315.10,780.26 L320.82,781.60 L326.54,782.81 L332.26,783.88 L337.98,784.82 L343.70,785.63 L349.42,786.31 L355.14,786.86 L360.86,787.28 L366.58,787.56 L372.30,787.72 L378.02,787.74 L383.74,787.63 L389.46,787.39 L395.18,787.01 L400.90,786.51 L406.62,785.87 L412.34,785.11 L418.06,784.21 L423.78,783.18 L429.50,782.01 L435.22,780.72 L440.94,779.30 L446.66,777.74 L452.38,776.05 L458.10,774.23 L463.82,772.28 L469.54,770.20 L475.26,767.98 L480.98,765.64 L486.70,763.16 L492.42,760.55 L498.14,757.81 L503.86,754.94 L509.58,751.94 L515.30,748.80 L521.02,745.54 L526.74,742.14 L532.46,738.61 L538.18,734.95 L543.90,731.16 L549.62,727.23 L555.34,723.18 L561.06,718.99 L566.78,714.67 L572.50,710.22 L578.22,705.64 L583.94,700.93 L589.66,696.08 L595.38,691.11 L601.10,686.00 " fill="none" stroke="#454545" stroke-width="4.5"/>
<line x1="385.00" y1="788.00" x2="385.00" y2="931.00" stroke="#111" stroke-width="1.5" stroke-dasharray="2 2"/>
<line x1="143.50" y1="649.00" x2="143.50" y2="697.70" stroke="#000" stroke-width="6" stroke-linecap="round"/>
<circle cx="143.50" cy="673.20" r="7.8" fill="#000" />
<line x1="207.40" y1="715.90" x2="207.40" y2="751.00" stroke="#000" stroke-width="6" stroke-linecap="round"/>
<circle cx="207.40" cy="732.90" r="7.8" fill="#000" />
<line x1="275.30" y1="754.00" x2="275.30" y2="779.30" stroke="#000" stroke-width="6" stroke-linecap="round"/>
<circle cx="275.30" cy="766.40" r="7.8" fill="#000" />
<line x1="339.30" y1="759.60" x2="339.30" y2="788.00" stroke="#000" stroke-width="6" stroke-linecap="round"/>
<circle cx="339.30" cy="773.30" r="7.8" fill="#000" />
<line x1="404.40" y1="772.50" x2="404.40" y2="800.00" stroke="#000" stroke-width="6" stroke-linecap="round"/>
<circle cx="404.40" cy="786.20" r="7.8" fill="#000" />
<line x1="471.20" y1="759.60" x2="471.20" y2="790.30" stroke="#000" stroke-width="6" stroke-linecap="round"/>
<circle cx="471.20" cy="775.20" r="7.8" fill="#000" />
<line x1="535.70" y1="724.40" x2="535.70" y2="758.70" stroke="#000" stroke-width="6" stroke-linecap="round"/>
<circle cx="535.70" cy="741.70" r="7.8" fill="#000" />
<line x1="601.10" y1="651.60" x2="601.10" y2="708.50" stroke="#000" stroke-width="6" stroke-linecap="round"/>
<circle cx="601.10" cy="679.90" r="7.8" fill="#000" />
<line x1="782.50" y1="934.30" x2="1282.50" y2="934.30" stroke="#3a3a3a" stroke-width="2" />
<line x1="837.92" y1="934.30" x2="837.92" y2="929.30" stroke="#3a3a3a" stroke-width="1.6" />
<line x1="957.50" y1="934.30" x2="957.50" y2="929.30" stroke="#3a3a3a" stroke-width="1.6" />
<line x1="1081.71" y1="934.30" x2="1081.71" y2="929.30" stroke="#3a3a3a" stroke-width="1.6" />
<line x1="1206.73" y1="934.30" x2="1206.73" y2="929.30" stroke="#3a3a3a" stroke-width="1.6" />
<line x1="1270.00" y1="934.30" x2="1270.00" y2="929.30" stroke="#3a3a3a" stroke-width="1.6" />
<line x1="795.24" y1="934.30" x2="795.24" y2="931.30" stroke="#3a3a3a" stroke-width="1.6" />
<line x1="874.01" y1="934.30" x2="874.01" y2="931.30" stroke="#3a3a3a" stroke-width="1.6" />
<line x1="905.27" y1="934.30" x2="905.27" y2="931.30" stroke="#3a3a3a" stroke-width="1.6" />
<line x1="932.84" y1="934.30" x2="932.84" y2="931.30" stroke="#3a3a3a" stroke-width="1.6" />
<line x1="1119.76" y1="934.30" x2="1119.76" y2="931.30" stroke="#3a3a3a" stroke-width="1.6" />
<line x1="1214.67" y1="934.30" x2="1214.67" y2="931.30" stroke="#3a3a3a" stroke-width="1.6" />
<line x1="1282.01" y1="934.30" x2="1282.01" y2="931.30" stroke="#3a3a3a" stroke-width="1.6" />
<text x="838.42" y="967.30" font-size="28.3" text-anchor="middle" fill="#000" font-weight="normal" >0.6</text>
<text x="957.50" y="967.30" font-size="28.3" text-anchor="middle" fill="#000" font-weight="normal" >1</text>
<text x="1082.21" y="967.30" font-size="28.3" text-anchor="middle" fill="#000" font-weight="normal" >1.7</text>
<text x="1207.73" y="967.30" font-size="28.3" text-anchor="middle" fill="#000" font-weight="normal" >2.9</text>
<text x="1271.50" y="967.30" font-size="28.3" text-anchor="middle" fill="#000" font-weight="normal" >3.8</text>
<text x="1026.50" y="1008.60" font-size="29.3" text-anchor="middle" fill="#000" font-weight="normal" >Beat frequency (Hz)</text>
<text x="998.40" y="612.80" font-size="28.5" text-anchor="middle" fill="#000" font-weight="normal" >Tapping</text>
<text x="1003.20" y="730.90" font-size="28.5" text-anchor="middle" fill="#c84b4b" font-weight="normal" >Tracking</text>
<text x="999.20" y="834.60" font-size="28.5" text-anchor="middle" fill="#4a4acb" font-weight="normal" >Passive</text>
<text x="1155.60" y="727.60" font-size="29.4" text-anchor="start" fill="#000" font-weight="normal" >NS</text>
<text x="1155.20" y="827.00" font-size="29.4" text-anchor="start" fill="#000" font-weight="normal" >NS</text>
<text x="1228.20" y="780.20" font-size="29.4" text-anchor="start" fill="#000" font-weight="normal" >NS</text>
<line x1="1145.60" y1="701.70" x2="1145.60" y2="732.10" stroke="#b0b0b0" stroke-width="1.3" />
<line x1="1145.00" y1="804.30" x2="1145.00" y2="834.60" stroke="#b0b0b0" stroke-width="1.3" />
<line x1="1218.50" y1="662.70" x2="1218.50" y2="881.20" stroke="#b0b0b0" stroke-width="1.3" />
<line x1="905.80" y1="662.00" x2="979.90" y2="662.00" stroke="#111" stroke-width="2.3" stroke-dasharray="6.5 7.3"/>
<line x1="1070.50" y1="662.00" x2="1157.20" y2="662.00" stroke="#111" stroke-width="2.3" stroke-dasharray="6.5 7.3"/>
<line x1="905.80" y1="656.50" x2="905.80" y2="667.50" stroke="#111" stroke-width="1.8" />
<line x1="1157.20" y1="656.50" x2="1157.20" y2="667.50" stroke="#111" stroke-width="1.8" />
<rect x="979.90" y="651.10" width="90.60" height="22.10" fill="none" stroke="#222" stroke-width="2.0"/>
<line x1="1035.10" y1="651.10" x2="1035.10" y2="673.20" stroke="#222" stroke-width="2.0" />
<circle cx="905.80" cy="662.60" r="10.6" fill="#000" fill-opacity="0.19" stroke="#000" stroke-opacity="0.12" stroke-width="1.5"/>
<circle cx="931.50" cy="659.30" r="10.6" fill="#000" fill-opacity="0.19" stroke="#000" stroke-opacity="0.12" stroke-width="1.5"/>
<circle cx="944.30" cy="664.60" r="10.6" fill="#000" fill-opacity="0.19" stroke="#000" stroke-opacity="0.12" stroke-width="1.5"/>
<circle cx="968.20" cy="664.60" r="10.6" fill="#000" fill-opacity="0.19" stroke="#000" stroke-opacity="0.12" stroke-width="1.5"/>
<circle cx="974.80" cy="658.80" r="10.6" fill="#000" fill-opacity="0.19" stroke="#000" stroke-opacity="0.12" stroke-width="1.5"/>
<circle cx="985.10" cy="661.30" r="10.6" fill="#000" fill-opacity="0.19" stroke="#000" stroke-opacity="0.12" stroke-width="1.5"/>
<circle cx="1007.80" cy="666.10" r="10.6" fill="#000" fill-opacity="0.19" stroke="#000" stroke-opacity="0.12" stroke-width="1.5"/>
<circle cx="1024.20" cy="663.00" r="10.6" fill="#000" fill-opacity="0.19" stroke="#000" stroke-opacity="0.12" stroke-width="1.5"/>
<circle cx="1038.70" cy="657.80" r="10.6" fill="#000" fill-opacity="0.19" stroke="#000" stroke-opacity="0.12" stroke-width="1.5"/>
<circle cx="1038.70" cy="665.00" r="10.6" fill="#000" fill-opacity="0.19" stroke="#000" stroke-opacity="0.12" stroke-width="1.5"/>
<circle cx="1042.80" cy="660.90" r="10.6" fill="#000" fill-opacity="0.19" stroke="#000" stroke-opacity="0.12" stroke-width="1.5"/>
<circle cx="1051.00" cy="665.00" r="10.6" fill="#000" fill-opacity="0.19" stroke="#000" stroke-opacity="0.12" stroke-width="1.5"/>
<circle cx="1090.20" cy="658.80" r="10.6" fill="#000" fill-opacity="0.19" stroke="#000" stroke-opacity="0.12" stroke-width="1.5"/>
<circle cx="1092.20" cy="659.90" r="10.6" fill="#000" fill-opacity="0.19" stroke="#000" stroke-opacity="0.12" stroke-width="1.5"/>
<circle cx="1117.60" cy="660.30" r="10.6" fill="#000" fill-opacity="0.19" stroke="#000" stroke-opacity="0.12" stroke-width="1.5"/>
<circle cx="1147.90" cy="657.20" r="10.6" fill="#000" fill-opacity="0.19" stroke="#000" stroke-opacity="0.12" stroke-width="1.5"/>
<circle cx="1157.10" cy="658.80" r="10.6" fill="#000" fill-opacity="0.19" stroke="#000" stroke-opacity="0.12" stroke-width="1.5"/>
<circle cx="987.00" cy="664.00" r="10.6" fill="#000" fill-opacity="0.19" stroke="#000" stroke-opacity="0.12" stroke-width="1.5"/>
<circle cx="1041.00" cy="662.00" r="10.6" fill="#000" fill-opacity="0.19" stroke="#000" stroke-opacity="0.12" stroke-width="1.5"/>
<circle cx="1034.00" cy="660.00" r="10.6" fill="#000" fill-opacity="0.19" stroke="#000" stroke-opacity="0.12" stroke-width="1.5"/>
<line x1="897.80" y1="770.90" x2="976.30" y2="770.90" stroke="#111" stroke-width="2.3" stroke-dasharray="6.5 7.3"/>
<line x1="1093.70" y1="770.90" x2="1169.80" y2="770.90" stroke="#111" stroke-width="2.3" stroke-dasharray="6.5 7.3"/>
<line x1="897.80" y1="765.40" x2="897.80" y2="776.40" stroke="#111" stroke-width="1.8" />
<line x1="1169.80" y1="765.40" x2="1169.80" y2="776.40" stroke="#111" stroke-width="1.8" />
<rect x="976.30" y="760.20" width="117.40" height="21.60" fill="none" stroke="#222" stroke-width="2.0"/>
<line x1="1034.90" y1="760.20" x2="1034.90" y2="781.80" stroke="#222" stroke-width="2.0" />
<circle cx="897.50" cy="765.90" r="11" fill="rgb(180,80,80)" fill-opacity="0.2" stroke="#ff0000" stroke-opacity="0.2" stroke-width="1.5"/>
<circle cx="931.50" cy="772.50" r="11" fill="rgb(180,80,80)" fill-opacity="0.2" stroke="#ff0000" stroke-opacity="0.2" stroke-width="1.5"/>
<circle cx="966.70" cy="764.20" r="11" fill="rgb(180,80,80)" fill-opacity="0.2" stroke="#ff0000" stroke-opacity="0.2" stroke-width="1.5"/>
<circle cx="964.50" cy="769.70" r="11" fill="rgb(180,80,80)" fill-opacity="0.2" stroke="#ff0000" stroke-opacity="0.2" stroke-width="1.5"/>
<circle cx="965.60" cy="774.10" r="11" fill="rgb(180,80,80)" fill-opacity="0.2" stroke="#ff0000" stroke-opacity="0.2" stroke-width="1.5"/>
<circle cx="984.30" cy="768.60" r="11" fill="rgb(180,80,80)" fill-opacity="0.2" stroke="#ff0000" stroke-opacity="0.2" stroke-width="1.5"/>
<circle cx="989.80" cy="767.50" r="11" fill="rgb(180,80,80)" fill-opacity="0.2" stroke="#ff0000" stroke-opacity="0.2" stroke-width="1.5"/>
<circle cx="1004.00" cy="770.30" r="11" fill="rgb(180,80,80)" fill-opacity="0.2" stroke="#ff0000" stroke-opacity="0.2" stroke-width="1.5"/>
<circle cx="1027.10" cy="765.90" r="11" fill="rgb(180,80,80)" fill-opacity="0.2" stroke="#ff0000" stroke-opacity="0.2" stroke-width="1.5"/>
<circle cx="1035.90" cy="766.40" r="11" fill="rgb(180,80,80)" fill-opacity="0.2" stroke="#ff0000" stroke-opacity="0.2" stroke-width="1.5"/>
<circle cx="1032.60" cy="773.00" r="11" fill="rgb(180,80,80)" fill-opacity="0.2" stroke="#ff0000" stroke-opacity="0.2" stroke-width="1.5"/>
<circle cx="1075.50" cy="765.90" r="11" fill="rgb(180,80,80)" fill-opacity="0.2" stroke="#ff0000" stroke-opacity="0.2" stroke-width="1.5"/>
<circle cx="1074.40" cy="770.80" r="11" fill="rgb(180,80,80)" fill-opacity="0.2" stroke="#ff0000" stroke-opacity="0.2" stroke-width="1.5"/>
<circle cx="1086.50" cy="774.10" r="11" fill="rgb(180,80,80)" fill-opacity="0.2" stroke="#ff0000" stroke-opacity="0.2" stroke-width="1.5"/>
<circle cx="1092.00" cy="768.60" r="11" fill="rgb(180,80,80)" fill-opacity="0.2" stroke="#ff0000" stroke-opacity="0.2" stroke-width="1.5"/>
<circle cx="1094.20" cy="773.00" r="11" fill="rgb(180,80,80)" fill-opacity="0.2" stroke="#ff0000" stroke-opacity="0.2" stroke-width="1.5"/>
<circle cx="1105.20" cy="765.30" r="11" fill="rgb(180,80,80)" fill-opacity="0.2" stroke="#ff0000" stroke-opacity="0.2" stroke-width="1.5"/>
<circle cx="1106.30" cy="767.50" r="11" fill="rgb(180,80,80)" fill-opacity="0.2" stroke="#ff0000" stroke-opacity="0.2" stroke-width="1.5"/>
<circle cx="1129.30" cy="767.50" r="11" fill="rgb(180,80,80)" fill-opacity="0.2" stroke="#ff0000" stroke-opacity="0.2" stroke-width="1.5"/>
<circle cx="1169.60" cy="771.20" r="11" fill="rgb(180,80,80)" fill-opacity="0.2" stroke="#ff0000" stroke-opacity="0.2" stroke-width="1.5"/>
<line x1="795.00" y1="879.20" x2="957.40" y2="879.20" stroke="#111" stroke-width="2.3" stroke-dasharray="6.5 7.3"/>
<line x1="1108.20" y1="879.20" x2="1188.10" y2="879.20" stroke="#111" stroke-width="2.3" stroke-dasharray="6.5 7.3"/>
<line x1="795.00" y1="873.70" x2="795.00" y2="884.70" stroke="#111" stroke-width="1.8" />
<line x1="1188.10" y1="873.70" x2="1188.10" y2="884.70" stroke="#111" stroke-width="1.8" />
<rect x="957.40" y="868.70" width="150.80" height="21.90" fill="none" stroke="#222" stroke-width="2.0"/>
<line x1="1064.30" y1="868.70" x2="1064.30" y2="890.60" stroke="#222" stroke-width="2.0" />
<circle cx="795.00" cy="878.00" r="11" fill="rgb(80,80,200)" fill-opacity="0.2" stroke="#0000ff" stroke-opacity="0.2" stroke-width="1.5"/>
<circle cx="848.90" cy="884.20" r="11" fill="rgb(80,80,200)" fill-opacity="0.2" stroke="#0000ff" stroke-opacity="0.2" stroke-width="1.5"/>
<circle cx="907.80" cy="875.40" r="11" fill="rgb(80,80,200)" fill-opacity="0.2" stroke="#0000ff" stroke-opacity="0.2" stroke-width="1.5"/>
<circle cx="921.30" cy="881.20" r="11" fill="rgb(80,80,200)" fill-opacity="0.2" stroke="#0000ff" stroke-opacity="0.2" stroke-width="1.5"/>
<circle cx="956.50" cy="874.50" r="11" fill="rgb(80,80,200)" fill-opacity="0.2" stroke="#0000ff" stroke-opacity="0.2" stroke-width="1.5"/>
<circle cx="957.40" cy="880.30" r="11" fill="rgb(80,80,200)" fill-opacity="0.2" stroke="#0000ff" stroke-opacity="0.2" stroke-width="1.5"/>
<circle cx="958.80" cy="883.20" r="11" fill="rgb(80,80,200)" fill-opacity="0.2" stroke="#0000ff" stroke-opacity="0.2" stroke-width="1.5"/>
<circle cx="973.80" cy="878.80" r="11" fill="rgb(80,80,200)" fill-opacity="0.2" stroke="#0000ff" stroke-opacity="0.2" stroke-width="1.5"/>
<circle cx="1031.80" cy="876.80" r="11" fill="rgb(80,80,200)" fill-opacity="0.2" stroke="#0000ff" stroke-opacity="0.2" stroke-width="1.5"/>
<circle cx="1054.60" cy="884.60" r="11" fill="rgb(80,80,200)" fill-opacity="0.2" stroke="#0000ff" stroke-opacity="0.2" stroke-width="1.5"/>
<circle cx="1072.80" cy="883.20" r="11" fill="rgb(80,80,200)" fill-opacity="0.2" stroke="#0000ff" stroke-opacity="0.2" stroke-width="1.5"/>
<circle cx="1081.40" cy="874.50" r="11" fill="rgb(80,80,200)" fill-opacity="0.2" stroke="#0000ff" stroke-opacity="0.2" stroke-width="1.5"/>
<circle cx="1082.90" cy="877.40" r="11" fill="rgb(80,80,200)" fill-opacity="0.2" stroke="#0000ff" stroke-opacity="0.2" stroke-width="1.5"/>
<circle cx="1091.50" cy="880.30" r="11" fill="rgb(80,80,200)" fill-opacity="0.2" stroke="#0000ff" stroke-opacity="0.2" stroke-width="1.5"/>
<circle cx="1094.40" cy="876.00" r="11" fill="rgb(80,80,200)" fill-opacity="0.2" stroke="#0000ff" stroke-opacity="0.2" stroke-width="1.5"/>
<circle cx="1120.30" cy="878.80" r="11" fill="rgb(80,80,200)" fill-opacity="0.2" stroke="#0000ff" stroke-opacity="0.2" stroke-width="1.5"/>
<circle cx="1124.70" cy="880.30" r="11" fill="rgb(80,80,200)" fill-opacity="0.2" stroke="#0000ff" stroke-opacity="0.2" stroke-width="1.5"/>
<circle cx="1127.60" cy="877.40" r="11" fill="rgb(80,80,200)" fill-opacity="0.2" stroke="#0000ff" stroke-opacity="0.2" stroke-width="1.5"/>
<circle cx="1144.00" cy="874.50" r="11" fill="rgb(80,80,200)" fill-opacity="0.2" stroke="#0000ff" stroke-opacity="0.2" stroke-width="1.5"/>
<circle cx="1188.10" cy="878.80" r="11" fill="rgb(80,80,200)" fill-opacity="0.2" stroke="#0000ff" stroke-opacity="0.2" stroke-width="1.5"/>
<line x1="120.00" y1="1090.80" x2="120.00" y2="1476.00" stroke="#3a3a3a" stroke-width="2" />
<line x1="120.00" y1="1363.80" x2="125.00" y2="1363.80" stroke="#3a3a3a" stroke-width="1.6" />
<line x1="120.00" y1="1251.60" x2="125.00" y2="1251.60" stroke="#3a3a3a" stroke-width="1.6" />
<line x1="120.00" y1="1139.40" x2="125.00" y2="1139.40" stroke="#3a3a3a" stroke-width="1.6" />
<line x1="119.70" y1="1476.00" x2="624.40" y2="1476.00" stroke="#3a3a3a" stroke-width="2" />
<line x1="163.58" y1="1476.00" x2="163.58" y2="1471.00" stroke="#3a3a3a" stroke-width="1.6" />
<line x1="287.70" y1="1476.00" x2="287.70" y2="1471.00" stroke="#3a3a3a" stroke-width="1.6" />
<line x1="416.64" y1="1476.00" x2="416.64" y2="1471.00" stroke="#3a3a3a" stroke-width="1.6" />
<line x1="546.41" y1="1476.00" x2="546.41" y2="1471.00" stroke="#3a3a3a" stroke-width="1.6" />
<line x1="612.09" y1="1476.00" x2="612.09" y2="1471.00" stroke="#3a3a3a" stroke-width="1.6" />
<line x1="201.03" y1="1476.00" x2="201.03" y2="1473.00" stroke="#3a3a3a" stroke-width="1.6" />
<line x1="233.48" y1="1476.00" x2="233.48" y2="1473.00" stroke="#3a3a3a" stroke-width="1.6" />
<line x1="262.10" y1="1476.00" x2="262.10" y2="1473.00" stroke="#3a3a3a" stroke-width="1.6" />
<line x1="456.13" y1="1476.00" x2="456.13" y2="1473.00" stroke="#3a3a3a" stroke-width="1.6" />
<line x1="554.65" y1="1476.00" x2="554.65" y2="1473.00" stroke="#3a3a3a" stroke-width="1.6" />
<line x1="624.55" y1="1476.00" x2="624.55" y2="1473.00" stroke="#3a3a3a" stroke-width="1.6" />
<text x="106.50" y="1148.60" font-size="29" text-anchor="end" fill="#000" font-weight="normal" >3<tspan font-family="Liberation Serif" font-style="italic">π</tspan>/4</text>
<text x="106.50" y="1262.00" font-size="29" text-anchor="end" fill="#000" font-weight="normal" ><tspan font-family="Liberation Serif" font-style="italic">π</tspan>/2</text>
<text x="106.50" y="1374.30" font-size="29" text-anchor="end" fill="#000" font-weight="normal" ><tspan font-family="Liberation Serif" font-style="italic">π</tspan>/4</text>
<text x="106.50" y="1484.70" font-size="29" text-anchor="end" fill="#000" font-weight="normal" >0</text>
<text x="163.58" y="1510.50" font-size="29" text-anchor="middle" fill="#000" font-weight="normal" >0.6</text>
<text x="287.70" y="1510.50" font-size="29" text-anchor="middle" fill="#000" font-weight="normal" >1</text>
<text x="416.64" y="1510.50" font-size="29" text-anchor="middle" fill="#000" font-weight="normal" >1.7</text>
<text x="546.41" y="1510.50" font-size="29" text-anchor="middle" fill="#000" font-weight="normal" >2.9</text>
<text x="612.09" y="1510.50" font-size="29" text-anchor="middle" fill="#000" font-weight="normal" >3.8</text>
<text x="372.80" y="1548.20" font-size="29.3" text-anchor="middle" fill="#000" font-weight="normal" >Beat frequency (Hz)</text>
<text x="22.80" y="1386.80" font-size="29" text-anchor="start" fill="#000" font-weight="normal" transform="rotate(-90 22.8 1386.8)">tapping-beat</text>
<text x="22.80" y="1200.80" font-size="29" text-anchor="start" fill="#000" font-weight="normal" transform="rotate(-90 22.8 1200.8)">(rad)</text>
<rect x="0.4" y="1419.6" width="30.5" height="2.9" fill="#000"/>
<rect x="0.4" y="1217.3" width="30.5" height="2.7" fill="#000"/>
<ellipse cx="16.2" cy="1405.1" rx="6.6" ry="7.6" fill="none" stroke="#000" stroke-width="1.9" transform="rotate(-20 16.2 1405.1)"/>
<line x1="2.1" y1="1402.4" x2="28.7" y2="1408" stroke="#000" stroke-width="1.5"/>
<line x1="142.30" y1="1371.00" x2="142.30" y2="1388.40" stroke="#cdcdcd" stroke-width="4.3" stroke-linecap="round"/>
<circle cx="142.30" cy="1379.80" r="7.9" fill="#cdcdcd" />
<line x1="208.10" y1="1368.00" x2="208.10" y2="1379.00" stroke="#cdcdcd" stroke-width="4.3" stroke-linecap="round"/>
<circle cx="208.10" cy="1373.60" r="7.9" fill="#cdcdcd" />
<line x1="278.30" y1="1371.00" x2="278.30" y2="1387.00" stroke="#cdcdcd" stroke-width="4.3" stroke-linecap="round"/>
<circle cx="278.30" cy="1379.30" r="7.9" fill="#cdcdcd" />
<line x1="344.00" y1="1356.00" x2="344.00" y2="1375.20" stroke="#cdcdcd" stroke-width="4.3" stroke-linecap="round"/>
<circle cx="344.00" cy="1365.30" r="7.9" fill="#cdcdcd" />
<line x1="410.80" y1="1357.00" x2="410.80" y2="1370.00" stroke="#cdcdcd" stroke-width="4.3" stroke-linecap="round"/>
<circle cx="410.80" cy="1363.60" r="7.9" fill="#cdcdcd" />
<line x1="479.30" y1="1350.00" x2="479.30" y2="1369.50" stroke="#cdcdcd" stroke-width="4.3" stroke-linecap="round"/>
<circle cx="479.30" cy="1359.60" r="7.9" fill="#cdcdcd" />
<line x1="546.00" y1="1353.00" x2="546.00" y2="1375.20" stroke="#cdcdcd" stroke-width="4.3" stroke-linecap="round"/>
<circle cx="546.00" cy="1364.00" r="7.9" fill="#cdcdcd" />
<line x1="613.60" y1="1330.00" x2="613.60" y2="1356.70" stroke="#cdcdcd" stroke-width="4.3" stroke-linecap="round"/>
<circle cx="613.60" cy="1343.10" r="7.9" fill="#cdcdcd" />
<line x1="142.30" y1="1351.00" x2="142.30" y2="1371.40" stroke="#606060" stroke-width="4.3" stroke-linecap="round"/>
<circle cx="142.30" cy="1361.20" r="7.9" fill="#606060" />
<line x1="208.10" y1="1329.50" x2="208.10" y2="1356.20" stroke="#606060" stroke-width="4.3" stroke-linecap="round"/>
<circle cx="208.10" cy="1343.10" r="7.9" fill="#606060" />
<line x1="278.30" y1="1337.40" x2="278.30" y2="1359.40" stroke="#606060" stroke-width="4.3" stroke-linecap="round"/>
<circle cx="278.30" cy="1348.30" r="7.9" fill="#606060" />
<line x1="344.00" y1="1336.90" x2="344.00" y2="1359.10" stroke="#606060" stroke-width="4.3" stroke-linecap="round"/>
<circle cx="344.00" cy="1348.00" r="7.9" fill="#606060" />
<line x1="410.80" y1="1314.60" x2="410.80" y2="1341.30" stroke="#606060" stroke-width="4.3" stroke-linecap="round"/>
<circle cx="410.80" cy="1328.20" r="7.9" fill="#606060" />
<line x1="479.30" y1="1330.70" x2="479.30" y2="1351.70" stroke="#606060" stroke-width="4.3" stroke-linecap="round"/>
<circle cx="479.30" cy="1341.80" r="7.9" fill="#606060" />
<line x1="546.00" y1="1331.90" x2="546.00" y2="1362.80" stroke="#606060" stroke-width="4.3" stroke-linecap="round"/>
<circle cx="546.00" cy="1346.80" r="7.9" fill="#606060" />
<line x1="613.60" y1="1299.80" x2="613.60" y2="1333.20" stroke="#606060" stroke-width="4.3" stroke-linecap="round"/>
<circle cx="613.60" cy="1316.60" r="7.9" fill="#606060" />
<line x1="354.90" y1="1139.50" x2="394.60" y2="1139.50" stroke="#cdcdcd" stroke-width="1.5" />
<text x="408.20" y="1148.10" font-size="24.7" text-anchor="start" fill="#cdcdcd" font-weight="normal" >Correct</text>
<line x1="354.90" y1="1183.00" x2="394.60" y2="1183.00" stroke="#555" stroke-width="1.5" />
<text x="408.20" y="1191.60" font-size="24.7" text-anchor="start" fill="#000" font-weight="normal" >Incorrect</text>
<polyline points="587.3,1143.5 597.6,1143.5 597.6,1174.6 587.3,1174.6" fill="none" stroke="#c8c8c8" stroke-width="1.4"/>
<path d="M623.20,1154.20 L623.20,1165.00 M618.52,1156.90 L627.88,1162.30 M618.52,1162.30 L627.88,1156.90 " stroke="#000" stroke-width="2.8" stroke-linecap="round" fill="none"/>
<line x1="784.70" y1="1090.30" x2="784.70" y2="1475.80" stroke="#111" stroke-width="2.2" />
<line x1="784.70" y1="1108.40" x2="789.70" y2="1108.40" stroke="#111" stroke-width="1.6" />
<line x1="784.70" y1="1200.10" x2="789.70" y2="1200.10" stroke="#111" stroke-width="1.6" />
<line x1="784.70" y1="1291.80" x2="789.70" y2="1291.80" stroke="#111" stroke-width="1.6" />
<line x1="784.70" y1="1383.50" x2="789.70" y2="1383.50" stroke="#111" stroke-width="1.6" />
<line x1="783.60" y1="1475.80" x2="1289.20" y2="1475.80" stroke="#111" stroke-width="2.2" />
<line x1="828.18" y1="1475.80" x2="828.18" y2="1470.80" stroke="#111" stroke-width="1.6" />
<line x1="952.50" y1="1475.80" x2="952.50" y2="1470.80" stroke="#111" stroke-width="1.6" />
<line x1="1081.64" y1="1475.80" x2="1081.64" y2="1470.80" stroke="#111" stroke-width="1.6" />
<line x1="1211.63" y1="1475.80" x2="1211.63" y2="1470.80" stroke="#111" stroke-width="1.6" />
<line x1="1277.41" y1="1475.80" x2="1277.41" y2="1470.80" stroke="#111" stroke-width="1.6" />
<line x1="865.69" y1="1475.80" x2="865.69" y2="1472.80" stroke="#111" stroke-width="1.6" />
<line x1="898.19" y1="1475.80" x2="898.19" y2="1472.80" stroke="#111" stroke-width="1.6" />
<line x1="926.86" y1="1475.80" x2="926.86" y2="1472.80" stroke="#111" stroke-width="1.6" />
<line x1="1121.20" y1="1475.80" x2="1121.20" y2="1472.80" stroke="#111" stroke-width="1.6" />
<line x1="1219.88" y1="1475.80" x2="1219.88" y2="1472.80" stroke="#111" stroke-width="1.6" />
<line x1="1289.89" y1="1475.80" x2="1289.89" y2="1472.80" stroke="#111" stroke-width="1.6" />
<text x="770.50" y="1117.90" font-size="29" text-anchor="end" fill="#000" font-weight="normal" >0.9</text>
<text x="770.50" y="1209.60" font-size="29" text-anchor="end" fill="#000" font-weight="normal" >0.8</text>
<text x="770.50" y="1301.30" font-size="29" text-anchor="end" fill="#000" font-weight="normal" >0.7</text>
<text x="770.50" y="1393.00" font-size="29" text-anchor="end" fill="#000" font-weight="normal" >0.6</text>
<text x="770.50" y="1484.70" font-size="29" text-anchor="end" fill="#000" font-weight="normal" >0.5</text>
<text x="828.18" y="1509.40" font-size="29" text-anchor="middle" fill="#000" font-weight="normal" >0.6</text>
<text x="952.50" y="1509.40" font-size="29" text-anchor="middle" fill="#000" font-weight="normal" >1</text>
<text x="1081.64" y="1509.40" font-size="29" text-anchor="middle" fill="#000" font-weight="normal" >1.7</text>
<text x="1209.63" y="1509.40" font-size="29" text-anchor="middle" fill="#000" font-weight="normal" >2.9</text>
<text x="1276.21" y="1509.40" font-size="29" text-anchor="middle" fill="#000" font-weight="normal" >3.8</text>
<text x="1037.40" y="1548.20" font-size="29.3" text-anchor="middle" fill="#000" font-weight="normal" >Beat frequency (Hz)</text>
<text x="707.00" y="1290.70" font-size="29.3" text-anchor="middle" fill="#000" font-weight="normal" transform="rotate(-90 707 1290.7)">Proportion correct</text>
<line x1="807.60" y1="1172.40" x2="807.60" y2="1209.80" stroke="#cdcdcd" stroke-width="5.2" stroke-linecap="round"/>
<circle cx="807.60" cy="1190.50" r="7.8" fill="#cdcdcd" />
<line x1="872.90" y1="1148.60" x2="872.90" y2="1191.70" stroke="#cdcdcd" stroke-width="5.2" stroke-linecap="round"/>
<circle cx="872.90" cy="1170.10" r="7.8" fill="#cdcdcd" />
<line x1="943.10" y1="1088.50" x2="943.10" y2="1115.70" stroke="#cdcdcd" stroke-width="5.2" stroke-linecap="round"/>
<circle cx="943.10" cy="1101.70" r="7.8" fill="#cdcdcd" />
<line x1="1008.40" y1="1119.70" x2="1008.40" y2="1152.00" stroke="#cdcdcd" stroke-width="5.2" stroke-linecap="round"/>
<circle cx="1008.40" cy="1135.80" r="7.8" fill="#cdcdcd" />
<line x1="1075.00" y1="1093.90" x2="1075.00" y2="1132.90" stroke="#cdcdcd" stroke-width="5.2" stroke-linecap="round"/>
<circle cx="1075.00" cy="1113.20" r="7.8" fill="#cdcdcd" />
<line x1="1144.20" y1="1118.50" x2="1144.20" y2="1157.00" stroke="#cdcdcd" stroke-width="5.2" stroke-linecap="round"/>
<circle cx="1144.20" cy="1137.70" r="7.8" fill="#cdcdcd" />
<line x1="1210.30" y1="1228.60" x2="1210.30" y2="1272.00" stroke="#cdcdcd" stroke-width="5.2" stroke-linecap="round"/>
<circle cx="1210.30" cy="1250.40" r="7.8" fill="#cdcdcd" />
<line x1="1277.90" y1="1269.60" x2="1277.90" y2="1331.40" stroke="#cdcdcd" stroke-width="5.2" stroke-linecap="round"/>
<circle cx="1277.90" cy="1300.50" r="7.8" fill="#cdcdcd" />
<line x1="807.60" y1="1242.70" x2="807.60" y2="1285.70" stroke="#606060" stroke-width="5.2" stroke-linecap="round"/>
<circle cx="807.60" cy="1264.20" r="7.8" fill="#606060" />
<line x1="872.90" y1="1247.20" x2="872.90" y2="1285.70" stroke="#606060" stroke-width="5.2" stroke-linecap="round"/>
<circle cx="872.90" cy="1267.10" r="7.8" fill="#606060" />
<line x1="943.10" y1="1189.40" x2="943.10" y2="1242.70" stroke="#606060" stroke-width="5.2" stroke-linecap="round"/>
<circle cx="943.10" cy="1216.60" r="7.8" fill="#606060" />
<line x1="1008.40" y1="1136.50" x2="1008.40" y2="1177.40" stroke="#606060" stroke-width="5.2" stroke-linecap="round"/>
<circle cx="1008.40" cy="1156.90" r="7.8" fill="#606060" />
<line x1="1075.00" y1="1161.30" x2="1075.00" y2="1193.00" stroke="#606060" stroke-width="5.2" stroke-linecap="round"/>
<circle cx="1075.00" cy="1177.40" r="7.8" fill="#606060" />
<line x1="1144.20" y1="1144.40" x2="1144.20" y2="1182.90" stroke="#606060" stroke-width="5.2" stroke-linecap="round"/>
<circle cx="1144.20" cy="1163.70" r="7.8" fill="#606060" />
<line x1="1210.30" y1="1267.50" x2="1210.30" y2="1319.20" stroke="#606060" stroke-width="5.2" stroke-linecap="round"/>
<circle cx="1210.30" cy="1294.10" r="7.8" fill="#606060" />
<line x1="1277.90" y1="1331.40" x2="1277.90" y2="1399.00" stroke="#606060" stroke-width="5.2" stroke-linecap="round"/>
<circle cx="1277.90" cy="1365.60" r="7.8" fill="#606060" />
<line x1="803.40" y1="1399.00" x2="842.50" y2="1399.00" stroke="#c4c4c4" stroke-width="1.5" />
<text x="855.40" y="1406.40" font-size="24.3" text-anchor="start" fill="#cdcdcd" font-weight="normal" >Low</text>
<text x="907.50" y="1406.40" font-size="25.5" text-anchor="start" fill="#cdcdcd" font-weight="normal" textLength="36" lengthAdjust="spacingAndGlyphs" font-family="Liberation Serif">|Δϕ|</text>
<line x1="803.40" y1="1439.80" x2="842.50" y2="1439.80" stroke="#555" stroke-width="1.5" />
<text x="855.00" y="1448.50" font-size="24.3" text-anchor="start" fill="#000" font-weight="normal" >HIgh</text>
<text x="913.60" y="1448.50" font-size="25.5" text-anchor="start" fill="#000" font-weight="normal" textLength="36" lengthAdjust="spacingAndGlyphs" font-family="Liberation Serif">|Δϕ|</text>
<polyline points="1044.4,1408.7 1055.4,1408.7 1055.4,1439.3 1044.4,1439.3" fill="none" stroke="#c8c8c8" stroke-width="1.4"/>
<path d="M1074.40,1419.15 L1074.40,1429.45 M1069.94,1421.72 L1078.86,1426.88 M1069.94,1426.88 L1078.86,1421.72 " stroke="#000" stroke-width="2.7" stroke-linecap="round" fill="none"/>
<rect x="1281" y="1074" width="175" height="152" fill="#fff"/>
<line x1="1279.00" y1="1076.40" x2="1279.00" y2="1227.00" stroke="#3a3a3a" stroke-width="2" />
<line x1="1279.00" y1="1095.70" x2="1281.50" y2="1095.70" stroke="#3a3a3a" stroke-width="1.6" />
<line x1="1279.00" y1="1140.00" x2="1281.50" y2="1140.00" stroke="#3a3a3a" stroke-width="1.6" />
<line x1="1279.00" y1="1183.20" x2="1281.50" y2="1183.20" stroke="#3a3a3a" stroke-width="1.6" />
<line x1="1279.00" y1="1227.00" x2="1456.00" y2="1227.00" stroke="#3a3a3a" stroke-width="2" />
<text x="1268.00" y="1102.10" font-size="20" text-anchor="end" fill="#000" font-weight="normal" >3<tspan font-family="Liberation Serif" font-style="italic">π</tspan>/4</text>
<text x="1268.00" y="1145.80" font-size="20" text-anchor="end" fill="#000" font-weight="normal" ><tspan font-family="Liberation Serif" font-style="italic">π</tspan>/2</text>
<text x="1268.00" y="1189.10" font-size="20" text-anchor="end" fill="#000" font-weight="normal" ><tspan font-family="Liberation Serif" font-style="italic">π</tspan>/4</text>
<text x="1268.00" y="1232.80" font-size="20.5" text-anchor="end" fill="#000" font-weight="normal" >0</text>
<text x="1217.10" y="1160.20" font-size="24.5" text-anchor="start" fill="#000" font-weight="normal" transform="rotate(-90 1217.1 1160.2)">(rad)</text>
<rect x="1201.2" y="1206.9" width="20.5" height="1.6" fill="#000"/>
<rect x="1201.2" y="1169.5" width="20.5" height="1.6" fill="#000"/>
<polygon points="1201.6,1196.9 1216.8,1190.8 1216.8,1203.2" fill="none" stroke="#000" stroke-width="1.5"/>
<ellipse cx="1212.2" cy="1182.3" rx="5.6" ry="5.9" fill="none" stroke="#000" stroke-width="1.6" transform="rotate(-20 1212.2 1182.3)"/>
<line x1="1199" y1="1179.4" x2="1222.8" y2="1183.8" stroke="#000" stroke-width="1.3"/>
<line x1="1286.20" y1="1203.40" x2="1286.20" y2="1209.40" stroke="#cdcdcd" stroke-width="2.5" stroke-linecap="round"/>
<circle cx="1286.20" cy="1206.40" r="3.6" fill="#cdcdcd" />
<line x1="1309.40" y1="1200.80" x2="1309.40" y2="1206.80" stroke="#cdcdcd" stroke-width="2.5" stroke-linecap="round"/>
<circle cx="1309.40" cy="1203.80" r="3.6" fill="#cdcdcd" />
<line x1="1333.90" y1="1199.90" x2="1333.90" y2="1205.90" stroke="#cdcdcd" stroke-width="2.5" stroke-linecap="round"/>
<circle cx="1333.90" cy="1202.90" r="3.6" fill="#cdcdcd" />
<line x1="1357.10" y1="1197.20" x2="1357.10" y2="1203.20" stroke="#cdcdcd" stroke-width="2.5" stroke-linecap="round"/>
<circle cx="1357.10" cy="1200.20" r="3.6" fill="#cdcdcd" />
<line x1="1380.30" y1="1198.40" x2="1380.30" y2="1204.40" stroke="#cdcdcd" stroke-width="2.5" stroke-linecap="round"/>
<circle cx="1380.30" cy="1201.40" r="3.6" fill="#cdcdcd" />
<line x1="1404.60" y1="1198.10" x2="1404.60" y2="1204.10" stroke="#cdcdcd" stroke-width="2.5" stroke-linecap="round"/>
<circle cx="1404.60" cy="1201.10" r="3.6" fill="#cdcdcd" />
<line x1="1428.10" y1="1203.80" x2="1428.10" y2="1209.80" stroke="#cdcdcd" stroke-width="2.5" stroke-linecap="round"/>
<circle cx="1428.10" cy="1206.80" r="3.6" fill="#cdcdcd" />
<line x1="1451.40" y1="1199.00" x2="1451.40" y2="1205.00" stroke="#cdcdcd" stroke-width="2.5" stroke-linecap="round"/>
<circle cx="1451.40" cy="1202.00" r="3.6" fill="#cdcdcd" />
<line x1="1286.20" y1="1164.80" x2="1286.20" y2="1173.80" stroke="#606060" stroke-width="2.5" stroke-linecap="round"/>
<circle cx="1286.20" cy="1169.30" r="3.6" fill="#606060" />
<line x1="1309.40" y1="1159.50" x2="1309.40" y2="1170.50" stroke="#606060" stroke-width="2.5" stroke-linecap="round"/>
<circle cx="1309.40" cy="1165.00" r="3.6" fill="#606060" />
<line x1="1333.90" y1="1166.70" x2="1333.90" y2="1174.70" stroke="#606060" stroke-width="2.5" stroke-linecap="round"/>
<circle cx="1333.90" cy="1170.70" r="3.6" fill="#606060" />
<line x1="1357.10" y1="1160.20" x2="1357.10" y2="1171.20" stroke="#606060" stroke-width="2.5" stroke-linecap="round"/>
<circle cx="1357.10" cy="1165.70" r="3.6" fill="#606060" />
<line x1="1380.30" y1="1156.90" x2="1380.30" y2="1164.90" stroke="#606060" stroke-width="2.5" stroke-linecap="round"/>
<circle cx="1380.30" cy="1160.90" r="3.6" fill="#606060" />
<line x1="1404.60" y1="1155.90" x2="1404.60" y2="1164.90" stroke="#606060" stroke-width="2.5" stroke-linecap="round"/>
<circle cx="1404.60" cy="1160.40" r="3.6" fill="#606060" />
<line x1="1428.10" y1="1148.50" x2="1428.10" y2="1161.50" stroke="#606060" stroke-width="2.5" stroke-linecap="round"/>
<circle cx="1428.10" cy="1155.00" r="3.6" fill="#606060" />
<line x1="1451.40" y1="1132.40" x2="1451.40" y2="1148.40" stroke="#606060" stroke-width="2.5" stroke-linecap="round"/>
<circle cx="1451.40" cy="1140.40" r="3.6" fill="#606060" /></svg>
</body></html>
